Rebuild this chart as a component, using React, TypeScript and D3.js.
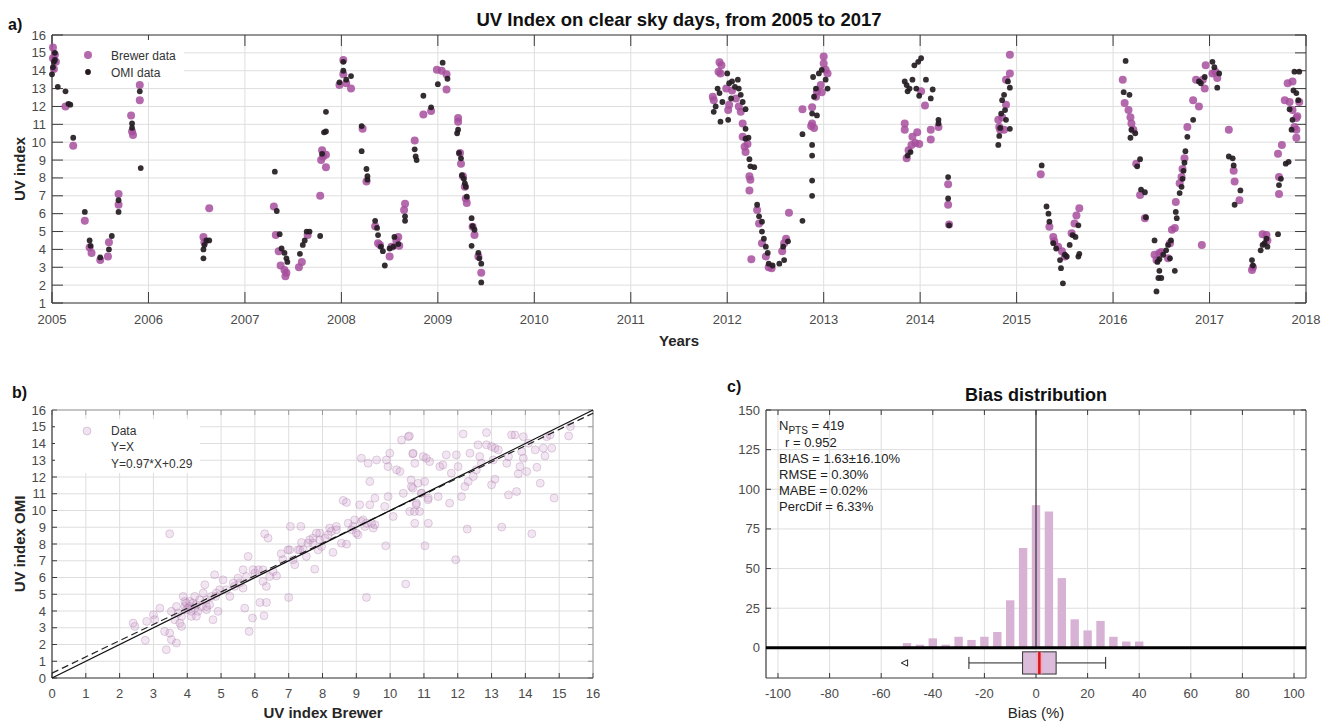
import React from "react";
import * as d3 from "d3";

// ---------------- DATA ----------------
// Panel a) time series [decimal year, UV index]
const brewerSeries: [number, number][] = [
  [2005.01,15.3],[2005.03,14.9],[2005.01,14.7],[2005.04,14.5],[2005.02,14.1],[2005.14,12.0],[2005.22,9.8],[2005.34,5.6],[2005.39,4.1],[2005.41,3.8],[2005.50,3.4],[2005.58,3.6],[2005.59,4.4],[2005.69,7.1],[2005.69,6.5],[2005.82,11.5],[2005.84,10.4],[2005.83,10.6],[2005.91,13.2],[2005.91,12.35],
  [2006.63,6.3],[2006.57,4.7],[2006.58,4.4],
  [2007.30,6.4],[2007.32,4.8],[2007.35,3.9],[2007.37,3.1],[2007.41,2.85],[2007.42,2.5],[2007.43,2.7],[2007.56,3.0],[2007.59,3.3],[2007.65,4.8],[2007.78,7.0],[2007.79,9.0],[2007.81,9.2],[2007.84,9.3],[2007.84,8.6],[2007.80,9.55],
  [2008.02,14.6],[2007.98,13.2],[2008.05,13.3],[2008.10,13.0],[2008.02,13.8],[2008.22,10.75],[2008.26,7.8],[2008.35,5.3],[2008.38,4.35],[2008.40,4.25],[2008.50,3.6],[2008.52,4.15],[2008.57,4.5],[2008.59,4.7],[2008.60,4.2],[2008.66,6.55],[2008.65,6.2],[2008.76,10.1],[2008.85,11.55],[2008.93,11.75],[2008.99,14.05],[2009.04,14.0],[2009.09,12.95],[2009.09,13.8],
  [2009.21,11.35],[2009.21,11.15],[2009.23,9.4],[2009.24,8.8],[2009.26,8.1],[2009.28,7.5],[2009.29,6.85],[2009.30,6.6],[2009.36,5.27],[2009.38,4.8],[2009.42,3.6],[2009.45,2.7],
  [2011.85,12.55],[2011.86,12.35],[2011.92,14.47],[2011.94,14.3],[2011.91,13.95],[2011.93,13.85],[2011.99,13.0],[2012.01,11.8],[2012.02,12.1],[2012.05,12.9],[2012.09,12.45],[2012.12,12.0],[2012.14,11.7],[2012.16,11.05],[2012.16,10.3],[2012.18,9.75],[2012.19,9.45],[2012.21,9.9],[2012.23,8.1],[2012.24,7.9],[2012.23,7.3],[2012.25,3.45],[2012.31,6.2],[2012.33,5.45],[2012.36,4.35],[2012.40,3.6],[2012.43,3.0],[2012.46,2.95],[2012.57,3.9],[2012.59,4.35],[2012.61,4.6],[2012.64,6.05],[2012.78,11.85],[2012.88,11.95],[2012.88,11.05],[2012.90,10.8],[2012.87,10.9],[2012.92,12.55],[2012.93,12.85],[2012.97,13.2],[2013.00,14.8],[2013.00,14.4],[2013.02,14.05],[2013.04,13.85],[2012.98,12.8],
  [2013.84,11.05],[2013.84,10.7],[2013.86,9.1],[2013.88,9.55],[2013.91,9.85],[2013.92,10.3],[2013.95,9.95],[2013.97,10.55],[2013.99,9.9],[2014.01,12.85],[2014.05,12.05],[2014.11,10.7],[2014.11,10.15],[2014.19,10.85],[2014.29,7.65],[2014.29,6.5],[2014.30,5.4],
  [2014.81,11.25],[2014.82,10.85],[2014.83,10.7],[2014.85,11.4],[2014.87,10.7],[2014.89,12.1],[2014.89,13.5],[2014.93,13.85],[2014.93,14.9],
  [2015.25,8.2],[2015.34,5.27],[2015.38,4.7],[2015.39,4.45],[2015.43,4.15],[2015.47,3.9],[2015.50,3.6],[2015.57,4.9],[2015.60,5.45],[2015.62,5.9],[2015.65,6.3],
  [2016.10,13.5],[2016.12,12.2],[2016.16,11.8],[2016.18,11.4],[2016.19,11.05],[2016.21,10.7],[2016.24,8.8],[2016.28,7.05],[2016.33,5.75],[2016.43,3.7],[2016.45,3.4],[2016.48,3.8],[2016.50,3.85],[2016.57,3.5],[2016.59,4.35],[2016.61,5.1],[2016.64,5.2],[2016.65,6.65],[2016.69,7.7],[2016.71,8.05],[2016.72,8.5],[2016.74,9.1],[2016.77,10.85],[2016.83,12.35],[2016.89,12.0],[2016.86,13.5],[2016.93,13.5],[2016.95,13.0],[2016.96,14.3],[2016.92,4.25],
  [2017.03,13.85],[2017.08,13.6],[2017.06,13.95],[2017.20,10.7],[2017.25,8.4],[2017.26,7.8],[2017.31,6.75],[2017.44,2.85],[2017.45,3.0],[2017.55,4.85],[2017.59,4.8],[2017.60,4.5],[2017.72,7.1],[2017.72,8.05],[2017.71,9.35],[2017.75,9.85],[2017.78,12.35],[2017.81,13.3],[2017.83,12.25],[2017.86,11.8],[2017.88,10.85],[2017.90,11.35],[2017.90,10.7],[2017.91,11.45],[2017.90,10.25],[2017.86,13.4],[2017.93,12.25]
];

const omiSeries: [number, number][] = [
  [2005.00,13.8],[2005.02,14.5],[2005.03,15.0],[2005.01,14.2],[2005.03,14.6],[2005.06,13.1],[2005.14,12.85],[2005.17,12.15],[2005.19,12.1],[2005.22,10.25],[2005.34,6.1],[2005.39,4.5],[2005.40,4.2],[2005.50,3.55],[2005.59,4.0],[2005.62,4.75],[2005.69,6.75],[2005.69,6.1],[2005.83,11.05],[2005.83,10.8],[2005.91,12.85],[2005.92,8.55],
  [2006.57,4.0],[2006.58,4.25],[2006.60,4.5],[2006.63,4.5],[2006.57,3.5],
  [2007.31,8.35],[2007.33,6.15],[2007.36,4.85],[2007.38,4.05],[2007.41,3.8],[2007.43,3.5],[2007.44,3.3],[2007.57,3.75],[2007.60,4.25],[2007.62,4.5],[2007.64,5.0],[2007.67,5.0],[2007.78,4.75],[2007.80,9.35],[2007.82,10.55],[2007.84,10.6],[2007.84,11.7],
  [2007.98,13.35],[2008.02,14.5],[2008.02,14.0],[2008.05,13.5],[2008.10,13.7],[2008.21,10.9],[2008.21,9.5],[2008.26,8.5],[2008.27,8.1],[2008.27,7.9],[2008.35,5.6],[2008.37,5.2],[2008.38,4.8],[2008.41,4.15],[2008.43,3.9],[2008.45,3.1],[2008.50,4.05],[2008.54,4.15],[2008.55,4.7],[2008.59,4.3],[2008.66,5.85],[2008.66,5.6],[2008.76,9.6],[2008.77,9.2],[2008.78,9.0],[2008.85,12.6],[2008.93,11.95],[2009.00,13.25],[2009.05,14.45],[2009.10,13.55],
  [2009.21,10.7],[2009.20,10.5],[2009.22,9.4],[2009.24,9.1],[2009.25,8.15],[2009.27,7.95],[2009.28,7.7],[2009.29,7.5],[2009.30,6.95],[2009.35,5.75],[2009.36,5.3],[2009.38,5.1],[2009.35,4.2],[2009.42,3.8],[2009.43,3.5],[2009.45,3.2],[2009.45,2.15],
  [2011.86,11.7],[2011.88,12.0],[2011.90,13.0],[2011.92,12.75],[2011.93,11.15],[2011.95,12.25],[2012.00,13.85],[2012.01,11.25],[2012.02,13.3],[2012.04,12.45],[2012.05,13.4],[2012.08,13.1],[2012.11,13.5],[2012.12,13.0],[2012.14,12.65],[2012.16,12.25],[2012.19,11.85],[2012.19,10.75],[2012.19,10.2],[2012.22,10.25],[2012.23,9.05],[2012.24,8.65],[2012.28,8.6],[2012.31,6.5],[2012.33,5.85],[2012.36,5.55],[2012.36,5.0],[2012.38,4.6],[2012.40,4.15],[2012.42,3.8],[2012.43,3.2],[2012.47,3.1],[2012.54,3.2],[2012.59,3.4],[2012.58,4.15],[2012.63,4.45],[2012.78,5.6],[2012.78,10.45],[2012.88,9.85],[2012.88,9.25],[2012.88,7.85],[2012.88,7.0],[2012.88,11.6],[2012.93,11.5],[2012.90,12.55],[2012.92,13.0],[2012.89,13.65],[2012.95,13.85],[2012.98,14.05],[2013.02,13.5],[2013.04,13.0],
  [2013.84,13.4],[2013.86,13.2],[2013.87,12.85],[2013.89,13.0],[2013.92,13.5],[2013.94,14.3],[2013.98,14.5],[2014.01,14.7],[2013.96,13.0],[2013.99,12.6],[2014.06,13.5],[2014.11,12.45],[2014.13,12.95],[2013.87,9.25],[2013.90,9.45],[2014.19,11.25],[2014.19,11.05],[2014.29,8.05],[2014.29,6.85],[2014.30,5.35],
  [2014.81,9.85],[2014.82,10.35],[2014.83,10.8],[2014.84,11.6],[2014.85,12.35],[2014.87,12.65],[2014.88,11.8],[2014.89,11.25],[2014.91,13.4],[2014.93,13.05],[2014.93,10.75],
  [2015.26,8.7],[2015.31,6.4],[2015.33,6.0],[2015.34,5.55],[2015.38,4.35],[2015.41,4.05],[2015.45,3.4],[2015.46,2.95],[2015.48,2.1],[2015.50,3.7],[2015.52,3.6],[2015.55,4.25],[2015.58,4.8],[2015.61,4.7],[2015.64,5.35],[2015.64,3.6],[2015.65,3.75],
  [2016.13,14.55],[2016.11,12.8],[2016.17,12.65],[2016.19,10.7],[2016.18,10.25],[2016.23,10.5],[2016.25,8.65],[2016.28,9.05],[2016.29,7.35],[2016.33,7.2],[2016.34,5.8],[2016.43,4.5],[2016.46,3.3],[2016.48,2.8],[2016.47,2.4],[2016.50,2.4],[2016.45,1.65],[2016.48,3.45],[2016.52,3.7],[2016.55,3.95],[2016.57,4.25],[2016.59,3.5],[2016.64,2.8],[2016.60,4.5],[2016.65,6.1],[2016.66,5.75],[2016.69,7.15],[2016.71,7.5],[2016.72,7.95],[2016.73,8.4],[2016.74,8.85],[2016.75,9.5],[2016.77,10.3],[2016.83,11.25],[2016.89,13.4],[2016.95,13.65],[2016.91,13.3],
  [2017.03,14.5],[2017.05,14.2],[2017.10,13.85],[2017.08,13.05],[2017.20,9.2],[2017.24,9.1],[2017.25,8.7],[2017.26,6.5],[2017.32,7.3],[2017.44,3.4],[2017.45,3.1],[2017.53,3.95],[2017.55,4.25],[2017.57,4.35],[2017.59,4.6],[2017.60,4.15],[2017.71,4.85],[2017.72,7.6],[2017.74,7.95],[2017.79,8.8],[2017.82,8.9],[2017.83,11.85],[2017.85,10.7],[2017.86,11.25],[2017.87,12.9],[2017.90,12.75],[2017.88,13.95],[2017.93,13.95],[2017.92,12.35]
];

// Panel b) scatter [UV Brewer, UV OMI]
const scatterPoints: [number, number][] = [
  [2.4,3.28],[2.45,3.08],[2.8,3.38],[2.76,2.25],[3.0,3.78],[3.04,3.48],[3.19,4.17],[3.33,2.78],[3.38,1.69],[3.48,8.61],[3.48,2.68],[3.53,2.29],[3.68,2.09],[3.63,3.48],[3.73,3.88],[3.78,3.28],[3.83,3.08],[3.88,4.87],[3.93,4.27],[3.97,4.08],[4.02,4.17],[4.07,4.27],[4.12,3.98],[4.17,4.47],[4.22,4.87],[4.27,4.37],[4.32,3.98],[4.37,4.67],[4.47,5.07],[4.52,5.57],[4.57,4.27],[4.66,4.37],[4.76,3.48],[4.81,6.16],[4.84,4.87],[4.91,3.98],
  [4.12,3.68],[4.27,3.68],[4.42,4.27],[4.57,4.67],[3.97,4.47],[3.83,3.68],[3.68,4.27],[3.53,3.98],[4.57,4.08],[4.71,4.87],[4.86,5.07],[4.96,5.27],[3.93,4.57],[4.07,4.57],[4.22,4.17],
  [5.06,5.86],[5.16,5.27],[5.26,4.87],[5.36,5.67],[5.5,5.96],[5.65,5.37],[5.65,6.46],[5.8,7.26],[5.83,2.78],[5.7,4.17],[5.93,3.58],[6.0,6.26],[6.1,6.46],[6.15,4.51],[6.24,5.77],[6.29,8.61],[6.34,4.51],[6.39,8.35],[6.34,5.47],[6.27,3.72],[6.44,6.06],[6.54,6.36],[6.64,6.1],[6.78,7.42],[6.98,7.65],[7.0,4.81],
  [5.40,5.47],[5.55,5.67],[5.75,6.06],[5.95,6.46],[6.24,6.46],[6.83,7.06],[7.03,7.65],[7.33,7.65],[7.57,8.05],[7.72,8.35],[7.92,8.65],[8.21,8.95],[8.41,8.85],[8.76,9.24],[8.91,9.05],[9.15,9.34],[9.25,9.05],[9.5,8.95],
  [7.05,9.05],[7.13,7.06],[7.18,6.76],[7.28,7.65],[7.36,9.05],[7.38,8.09],[7.43,7.65],[7.52,7.26],[7.62,8.25],[7.72,8.05],[7.77,6.5],[7.82,8.65],[7.87,7.65],[7.92,8.25],[7.97,7.85],[8.07,8.35],[8.17,8.55],[8.31,7.5],[8.26,8.75],[8.41,9.05],[8.56,8.05],[8.71,7.99],[8.61,10.6],[8.71,10.48],[8.86,8.85],[8.95,9.44],[9.0,8.65],[9.05,8.55],[9.1,10.34],[9.15,13.12],[9.2,9.44],[9.3,9.24],[9.3,4.81],[9.35,12.82],[9.4,11.73],[9.4,10.34],[9.45,9.24],[9.55,9.15],[9.55,10.74],[9.6,13.02],[9.87,7.89],[9.84,10.24],[9.89,13.02],[9.94,12.62],[9.99,13.42],[9.94,10.83],
  [10.09,9.64],[10.19,12.43],[10.29,12.33],[10.34,14.21],[10.54,14.41],[10.39,11.03],[10.46,5.61],[10.58,9.94],[10.63,11.43],[10.68,13.42],[10.73,12.82],[10.73,9.24],[10.78,10.44],[10.83,11.63],[10.93,11.03],[10.98,13.22],[11.03,7.89],[11.13,9.24],[11.13,10.74],
  [10.57,14.45],[10.67,13.38],[10.62,11.83],[10.67,11.33],[10.72,9.94],[10.77,10.34],[10.87,9.94],[10.92,11.03],[11.02,11.73],[11.07,13.12],[11.12,10.64],[11.17,12.92],[11.42,10.83],[11.47,12.62],[11.56,12.72],[11.66,13.32],[11.76,10.44],[11.81,12.23],[11.94,7.06],[11.96,13.32],[12.01,12.62],[12.11,10.83],[12.16,14.57],[12.21,11.43],[12.28,8.89],[12.31,11.73],[12.36,13.42],[12.46,12.03],[12.55,12.43],[12.6,13.92],[12.65,13.22],[12.7,12.82],[12.85,14.65],[12.85,13.92],[13.0,13.82],[13.0,11.53],[13.05,13.02],[13.1,13.72],[13.2,13.62],[13.1,11.87],[13.3,9.01],[13.45,12.82],[13.5,13.22],[13.5,10.93],[13.59,14.51],[13.69,14.51],[13.74,11.13],[13.79,12.19],[13.84,12.62],[13.89,13.52],[13.94,14.41],[13.94,13.12],[14.04,12.33],[14.09,14.02],[14.19,8.61],[14.29,13.62],[14.34,12.58],[14.44,11.63],[14.53,13.72],[14.58,13.26],[14.63,14.41],[14.73,14.51],[14.78,13.72],[14.85,10.74],[15.28,14.45],[15.33,15.01]
];
const fitSlope = 0.97;
const fitIntercept = 0.29;

// Panel c) histogram of bias (%)
const biasBinCenters = [-50,-45,-40,-35,-30,-25,-20,-15,-10,-5,0,5,10,15,20,25,30,35,40];
const biasCounts = [3,2,6,2,7,5,7,10,30,63,90,86,44,18,11,17,7,4,4];
const biasBinWidth = 5;
const boxQ1 = -5.2, boxMedian = 1.3, boxQ3 = 7.8, whiskerLow = -26, whiskerHigh = 27, outlierValue = -51;
const statsLines = ["BIAS = 1.63\u00b116.10%", "RMSE = 0.30%", "MABE = 0.02%", "PercDif = 6.33%"];

// tick labels
const yearTicks = d3.range(2005, 2019);
const uvTicksA = d3.range(1, 17);
const uvTicksB = d3.range(0, 17);
const biasXTicks = [-100, -80, -60, -40, -20, 0, 20, 40, 60, 80, 100];
const biasYTicks = [0, 25, 50, 75, 100, 125, 150];

// ---------------- STYLE ----------------
const FONT = "'Liberation Sans', Arial, Helvetica, sans-serif";
const GRID = "#dedede";
const AXIS = "#3a3a3a";
const TICKTXT = "#4a4a4a";
const LABEL = "#262626";

type Sc = d3.ScaleLinear<number, number>;

function Frame({ x, y, xt, yt, tick, xfmt, yfmt, xLabelY, yLabelX, boxStroke }: {
  x: Sc; y: Sc; xt: number[]; yt: number[]; tick: number; xfmt?: (v: number) => string; yfmt?: (v: number) => string;
  xLabelY: number; yLabelX: number; boxStroke: string;
}) {
  const [x0, x1] = x.range();
  const [y0, y1] = y.range(); // y0 bottom, y1 top
  return (
    <g>
      {xt.map((t) => (
        <line key={"gx" + t} x1={x(t)} x2={x(t)} y1={y0} y2={y1} stroke={GRID} strokeWidth={1} />
      ))}
      {yt.map((t) => (
        <line key={"gy" + t} x1={x0} x2={x1} y1={y(t)} y2={y(t)} stroke={GRID} strokeWidth={1} />
      ))}
      {xt.map((t) => (
        <g key={"tx" + t}>
          <line x1={x(t)} x2={x(t)} y1={y0} y2={y0 - tick} stroke={AXIS} strokeWidth={1} />
          <line x1={x(t)} x2={x(t)} y1={y1} y2={y1 + tick} stroke={boxStroke} strokeWidth={1} />
          <text x={x(t)} y={xLabelY} textAnchor="middle" fontSize={13} fill={TICKTXT} fontFamily={FONT}>
            {xfmt ? xfmt(t) : String(t)}
          </text>
        </g>
      ))}
      {yt.map((t) => (
        <g key={"ty" + t}>
          <line x1={x0} x2={x0 + tick} y1={y(t)} y2={y(t)} stroke={AXIS} strokeWidth={1} />
          <line x1={x1} x2={x1 - tick} y1={y(t)} y2={y(t)} stroke={boxStroke} strokeWidth={1} />
          <text x={yLabelX} y={y(t) + 4.5} textAnchor="end" fontSize={13} fill={TICKTXT} fontFamily={FONT}>
            {yfmt ? yfmt(t) : String(t)}
          </text>
        </g>
      ))}
      <line x1={x0} x2={x1} y1={y1} y2={y1} stroke={boxStroke} strokeWidth={1} />
      <line x1={x1} x2={x1} y1={y0} y2={y1} stroke={boxStroke} strokeWidth={1} />
      <line x1={x0} x2={x1} y1={y0} y2={y0} stroke={AXIS} strokeWidth={1.2} />
      <line x1={x0} x2={x0} y1={y0} y2={y1} stroke={AXIS} strokeWidth={1.2} />
    </g>
  );
}

export default function App() {
  // Panel a
  const xA = d3.scaleLinear().domain([2005, 2018]).range([52, 1306]);
  const yA = d3.scaleLinear().domain([1, 16]).range([303, 35]);
  // Panel b
  const xB = d3.scaleLinear().domain([0, 16]).range([52, 593]);
  const yB = d3.scaleLinear().domain([0, 16]).range([678, 410]);
  // Panel c
  const xC = d3.scaleLinear().domain([-104.65, 104.65]).range([766, 1306]);
  const yC = d3.scaleLinear().domain([-19, 150]).range([678, 410]);

  const lineB = d3.line<[number, number]>().x((d) => xB(d[0])).y((d) => yB(d[1]));
  const idLine: [number, number][] = [[0, 0], [16, 16]];
  const fitLine: [number, number][] = [[0, fitIntercept], [16, fitSlope * 16 + fitIntercept]];

  const barW = xC(biasBinWidth * 0.65) - xC(0);
  const boxY = -9.5;
  const boxHalf = 7;
  const capHalf = 3.8;
  const triSize = 3.2;

  return (
    <svg width={1322} height={723} style={{ position: "absolute", left: 0, top: 0, background: "#fff" }} fontFamily={FONT}>
      <rect x={0} y={0} width={1322} height={723} fill="#fff" />

      {/* ---------- Panel a ---------- */}
      <text x={8} y={30} fontSize={16} fontWeight="bold" fill="#111">a)</text>
      <text x={679} y={26} fontSize={18.5} fontWeight="bold" textAnchor="middle" fill="#111">
        UV Index on clear sky days, from 2005 to 2017
      </text>
      <Frame x={xA} y={yA} xt={yearTicks} yt={uvTicksA} tick={11} xLabelY={324} yLabelX={46} boxStroke={AXIS} />
      {/* legend background */}
      <rect x={56} y={40} width={128} height={42} fill="#fff" />
      <g>
        {brewerSeries.map((d, i) => (
          <circle key={"b" + i} cx={xA(d[0])} cy={yA(d[1])} r={4} fill="#a64f9c" fillOpacity={0.85} />
        ))}
        {omiSeries.map((d, i) => (
          <circle key={"o" + i} cx={xA(d[0])} cy={yA(d[1])} r={2.9} fill="#231b21" fillOpacity={0.92} />
        ))}
      </g>
      <circle cx={88} cy={55} r={4} fill="#a64f9c" fillOpacity={0.85} />
      <circle cx={88} cy={72} r={2.9} fill="#231b21" />
      <text x={111} y={59.5} fontSize={12} fill="#333">Brewer data</text>
      <text x={111} y={76.5} fontSize={12} fill="#333">OMI data</text>
      <text x={20} y={169} fontSize={15} fontWeight="bold" fill={LABEL} textAnchor="middle" transform="rotate(-90 20 169)" dy={5}>
        UV index
      </text>
      <text x={679} y={346} fontSize={15} fontWeight="bold" fill={LABEL} textAnchor="middle">Years</text>

      {/* ---------- Panel b ---------- */}
      <text x={12} y={398} fontSize={16} fontWeight="bold" fill="#111">b)</text>
      <Frame x={xB} y={yB} xt={uvTicksB} yt={uvTicksB} tick={5} xLabelY={698} yLabelX={46} boxStroke="#9a9a9a" />
      <g>
        {scatterPoints.map((d, i) => (
          <circle key={"s" + i} cx={xB(d[0])} cy={yB(d[1])} r={4} fill="#c58fc2" fillOpacity={0.22} stroke="#a77aa5" strokeOpacity={0.32} strokeWidth={1} />
        ))}
      </g>
      <path d={lineB(fitLine) || ""} fill="none" stroke="#222" strokeWidth={1.2} strokeDasharray="7,4" />
      <path d={lineB(idLine) || ""} fill="none" stroke="#111" strokeWidth={1.3} />
      <rect x={55} y={419} width={145} height={54} fill="#fff" />
      <circle cx={87} cy={431} r={4} fill="#c58fc2" fillOpacity={0.25} stroke="#a77aa5" strokeOpacity={0.35} />
      <text x={111} y={435} fontSize={12} fill="#333">Data</text>
      <text x={111} y={451} fontSize={12} fill="#333">Y=X</text>
      <text x={111} y={468} fontSize={12} fill="#333">Y=0.97*X+0.29</text>
      <text x={20} y={544} fontSize={15} fontWeight="bold" fill={LABEL} textAnchor="middle" transform="rotate(-90 20 544)" dy={5}>
        UV index OMI
      </text>
      <text x={323} y={718} fontSize={15} fontWeight="bold" fill={LABEL} textAnchor="middle">UV index Brewer</text>

      {/* ---------- Panel c ---------- */}
      <text x={727} y={392} fontSize={16} fontWeight="bold" fill="#111">c)</text>
      <text x={1036} y={401} fontSize={18} fontWeight="bold" textAnchor="middle" fill="#111">Bias distribution</text>
      <Frame x={xC} y={yC} xt={biasXTicks} yt={biasYTicks} tick={5} xLabelY={698} yLabelX={760} boxStroke={AXIS} />
      <g>
        {biasBinCenters.map((c, i) => (
          <rect key={"h" + i} x={xC(c) - barW / 2} y={yC(biasCounts[i])} width={barW} height={yC(0) - yC(biasCounts[i])} fill="#d7b2d4" />
        ))}
      </g>
      <line x1={xC(0)} x2={xC(0)} y1={yC(150)} y2={yC(0)} stroke="#333" strokeWidth={1.2} />
      <line x1={766} x2={1306} y1={yC(0)} y2={yC(0)} stroke="#000" strokeWidth={3} />
      {/* box plot */}
      <line x1={xC(whiskerLow)} x2={xC(boxQ1)} y1={yC(boxY)} y2={yC(boxY)} stroke="#222" strokeWidth={1} />
      <line x1={xC(boxQ3)} x2={xC(whiskerHigh)} y1={yC(boxY)} y2={yC(boxY)} stroke="#222" strokeWidth={1} />
      <line x1={xC(whiskerLow)} x2={xC(whiskerLow)} y1={yC(boxY + capHalf)} y2={yC(boxY - capHalf)} stroke="#222" strokeWidth={1} />
      <line x1={xC(whiskerHigh)} x2={xC(whiskerHigh)} y1={yC(boxY + capHalf)} y2={yC(boxY - capHalf)} stroke="#222" strokeWidth={1} />
      <rect x={xC(boxQ1)} y={yC(boxY + boxHalf)} width={xC(boxQ3) - xC(boxQ1)} height={yC(boxY - boxHalf) - yC(boxY + boxHalf)} fill="#dcbcdb" stroke="#333" strokeWidth={1} />
      <rect x={xC(boxMedian - 1.2)} y={yC(boxY + boxHalf) + 0.5} width={xC(2.4) - xC(0)} height={yC(boxY - boxHalf) - yC(boxY + boxHalf) - 1} fill="#f2a7b8" />
      <line x1={xC(boxMedian)} x2={xC(boxMedian)} y1={yC(boxY + boxHalf)} y2={yC(boxY - boxHalf)} stroke="#d4141e" strokeWidth={2.5} />
      <path
        d={`M${xC(outlierValue) - triSize},${yC(boxY)} L${xC(outlierValue) + triSize},${yC(boxY) - triSize} L${xC(outlierValue) + triSize},${yC(boxY) + triSize} Z`}
        fill="none" stroke="#222" strokeWidth={1}
      />
      {/* stats */}
      <text x={779} y={430} fontSize={13} fill="#222">
        N<tspan fontSize={10} dy={4}>PTS</tspan><tspan dy={-4}> = 419</tspan>
      </text>
      <text x={785} y={447} fontSize={13} fill="#222">r = 0.952</text>
      {statsLines.map((s, i) => (
        <text key={"st" + i} x={779} y={463 + i * 16} fontSize={13} fill="#222">{s}</text>
      ))}
      <text x={1036} y={718} fontSize={15} fill={LABEL} textAnchor="middle">Bias (%)</text>
    </svg>
  );
}
